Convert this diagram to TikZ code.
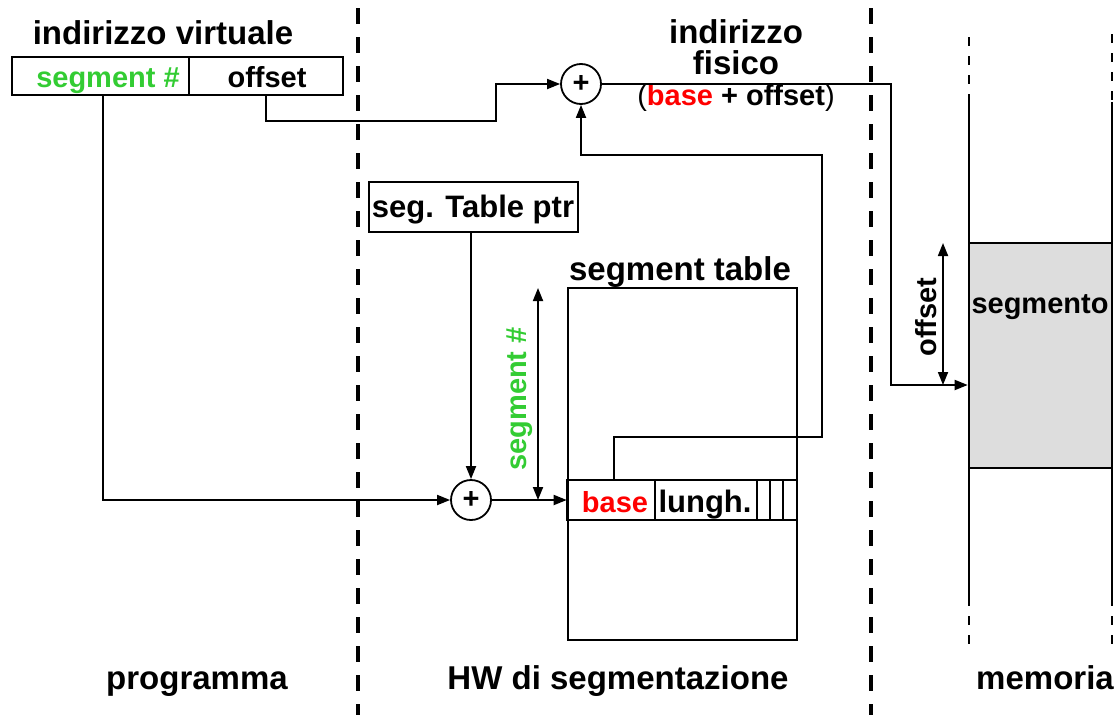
\documentclass[tikz,border=0pt]{standalone}
\usepackage{fontspec}
\setmainfont{Liberation Sans}
\usetikzlibrary{arrows.meta,calc}
\definecolor{seggreen}{RGB}{51,204,51}
\definecolor{basered}{RGB}{255,0,0}
\definecolor{seggray}{RGB}{221,221,221}
\tikzset{
  big/.style={font=\fontsize{33}{36}\selectfont\bfseries, inner sep=0pt, anchor=base},
  small/.style={font=\fontsize{29}{32}\selectfont\bfseries, inner sep=0pt, anchor=base},
  mid/.style={font=\fontsize{31}{34}\selectfont\bfseries, inner sep=0pt, anchor=base},
  rot/.style={font=\fontsize{29}{32}\selectfont\bfseries, inner sep=0pt, rotate=90},
  cellbox/.style={draw, line width=2.6pt, inner sep=0pt},
  conn/.style={line width=1.8pt},
  tip/.style={-{Triangle[length=13pt,width=10pt]}},
  dtip/.style={{Triangle[length=13pt,width=10pt]}-{Triangle[length=13pt,width=10pt]}},
  adder/.style={draw, circle, line width=1.8pt, minimum size=40pt, inner sep=0pt,
    font=\fontsize{29}{32}\selectfont\bfseries},
  sep/.style={line width=3.8pt, dash pattern=on 16pt off 13pt},
  memdash/.style={line width=2.8pt, dash pattern=on 9pt off 10pt},
  memline/.style={line width=2.8pt},
}
\begin{document}
\begin{tikzpicture}[x=1pt,y=-1pt]
\useasboundingbox (0,0) rectangle (1115,715);

% section separators
\draw[sep] (358,8) -- (358,715);
\draw[sep] (871,8) -- (871,715);

% virtual address
\node[big] (vtitle) at (163,44) {indirizzo virtuale};
\node[cellbox, minimum width=177pt, minimum height=38pt] (segf) at (100.5,76) {};
\node[cellbox, minimum width=154pt, minimum height=38pt] (offf) at (266,76) {};
\node[small, text=seggreen] (segflbl) at (108,87) {segment \#};
\node[small] (offflbl) at (267,87) {offset};

% adders
\node[adder] (add1) at (581,84) {+};
\node[adder] (add2) at (471,500) {+};

% physical address label
\node[big] (ftitle1) at (736,43) {indirizzo};
\node[big] (ftitle2) at (736,74) {fisico};
\node[small] (fsum) at (736,105) {{\mdseries(}\textcolor{basered}{base} + offset{\mdseries)}};

% segment table pointer
\node[cellbox, minimum width=209pt, minimum height=50pt] (ptr) at (473.5,207) {};
\node[mid] (ptrlbl) at (473,217) {seg. Table ptr};

% segment table
\node[big] (ttitle) at (680,280) {segment table};
\node[cellbox, minimum width=229pt, minimum height=352pt] (tab) at (682.5,464) {};
\node[cellbox, minimum width=88pt, minimum height=40pt] (basecell) at (611,500) {};
\node[cellbox, minimum width=102pt, minimum height=40pt] (lencell) at (706,500) {};
\node[cellbox, minimum width=13pt, minimum height=40pt] (c1) at (763.5,500) {};
\node[cellbox, minimum width=13pt, minimum height=40pt] (c2) at (776.5,500) {};
\node[cellbox, minimum width=14pt, minimum height=40pt] (c3) at (790,500) {};
\node[small, text=basered] (baselbl) at (615,512) {base};
\node[mid] (lenlbl) at (705,512) {lungh.};

% memory
\node[draw, line width=2.6pt, fill=seggray, minimum width=143pt, minimum height=225pt,
  inner sep=0pt] (seg) at (1040.5,355.5) {};
\node[small] (seglbl) at (1040,313) {segmento};
\draw[memline] (969,102) -- (969,597);
\draw[memline] (1112,102) -- (1112,597);
\draw[memdash] (969,37) -- (969,102);
\draw[memdash] (1112,34) -- (1112,102);
\draw[memdash] (969,597) -- (969,652);
\draw[memdash] (1112,597) -- (1112,650);

% connectors
\draw[conn, tip] (offf.south) |- (496,121) |- (add1.west);
\draw[conn, tip] (segf.south -| 103,0) |- (add2.west);
\draw[conn, tip] (ptr.south -| add2.north) -- (add2.north);
\draw[conn, tip] (add2.east) -- (add2.east -| tab.west);
\draw[conn, tip] (basecell.north -| 614,0) |- (822,437) |- (581,155) -- (add1.south);
\draw[conn, tip] (add1.east) -| (891,385) -- (seg.west |- 891,385);

% extent markers
\draw[conn, dtip] (538,288) -- (538,500);
\node[rot, text=seggreen] (segnum) at (520,399) {segment \#};
\draw[conn, dtip] (943,243) -- (943,385);
\node[rot] (offlbl) at (926,317) {offset};

% section captions
\node[big] (cap1) at (197,689) {programma};
\node[big] (cap2) at (618,689) {HW di segmentazione};
\node[big] (cap3) at (1045,689) {memoria};
\end{tikzpicture}
\end{document}
